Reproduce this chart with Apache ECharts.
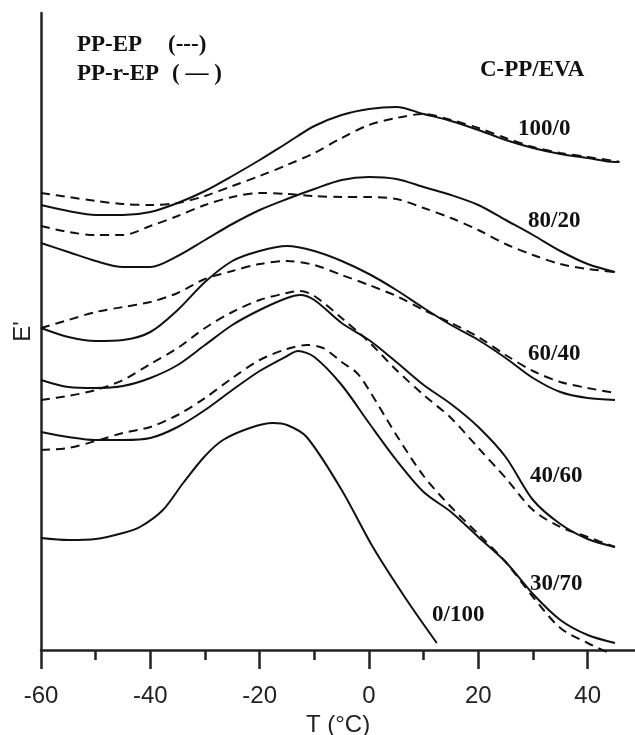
<!DOCTYPE html>
<html>
<head>
<meta charset="utf-8">
<title>C-PP/EVA - E' vs T</title>
<script src="https://cdn.jsdelivr.net/npm/echarts@6/dist/echarts.min.js"></script>
<style>
	html, body { margin: 0; padding: 0; background: #fff; }
	#chart { width: 635px; height: 735px; }
</style>
</head>
<body>
<div id="chart"></div>
<script>

/**
 * Most traces share the 5 degree grid, the rest carry their own peak points.
 */
var tempGrid = [-60, -55, -50, -45, -40, -35, -30, -25, -20, -15, -10, -5, 0, 5, 10, 15, 20, 25, 30, 35, 40, 45];
var tempGridLong = [-60, -55, -50, -45, -40, -35, -30, -25, -20, -15, -10, -5, 0, 5, 10, 15, 20, 25, 30, 35, 40, 45, 45.8];
var temp4060 = [-60, -55, -50, -45, -40, -35, -30, -25, -20, -15, -12.6, -10, -5, 0, 5, 10, 15, 20, 25, 30, 35, 40, 45];
var temp3070Solid = [-60, -55, -50, -45, -40, -35, -30, -25, -20, -15, -13, -10, -5, 0, 5, 10, 15, 20, 25, 30, 35, 40, 45];
var temp3070Dash = [-60, -55, -50, -45, -40, -35, -30, -25, -20, -15, -11.4, -8.4, -5, -2.2, 0, 5, 10, 15, 20, 25, 30, 35, 40, 43.5];
var temp0100 = [-60, -55, -50, -45, -41.9, -37.7, -34, -30, -26.7, -21.8, -17.6, -15, -11.4, -5, 0.7, 6.9, 12.4];

// E' (arbitrary units, curves are shifted vertically in the original)
var e100_0Solid = [445, 439, 435, 435, 438, 447, 459, 474, 490, 507, 524, 535, 541, 543, 536, 529, 520, 510, 502, 496, 492, 488, 488];
var e100_0Dash = [457, 453, 449, 446, 445, 447, 454, 464, 474, 485, 497, 512, 525, 532, 536, 530, 522, 512, 503, 497, 493, 489, 488];
var e80_20Solid = [407, 398, 389, 383, 383, 394, 410, 426, 440, 451, 461, 470, 473, 471, 463, 455, 445, 430, 415, 399, 386, 378];
var e80_20Dash = [424, 418, 415, 415, 424, 434, 445, 453, 457, 456, 454, 453, 453, 451, 442, 432, 420, 406, 395, 386, 381, 378];
var e60_40Solid = [322, 313, 309, 310, 318, 340, 368, 389, 399, 404, 399, 389, 376, 360, 342, 325, 310, 292, 272, 258, 252, 250];
var e60_40Dash = [322, 330, 338, 343, 348, 357, 371, 379, 386, 389, 385, 375, 365, 354, 340, 327, 313, 295, 279, 268, 262, 257];
var e40_60Solid = [270, 263, 262, 264, 272, 285, 305, 325, 340, 352, 355, 350, 327, 310, 288, 265, 246, 223, 193, 150, 126, 111, 103];
var e40_60Dash = [250, 254, 260, 270, 286, 302, 322, 338, 350, 357, 359, 354, 332, 308, 280, 255, 232, 202, 172, 140, 123, 113, 103];
var e30_70Solid = [218, 213, 210, 210, 212, 223, 240, 260, 279, 294, 299, 293, 265, 227, 190, 158, 138, 113, 88, 56, 30, 15, 7];
var e30_70Dash = [200, 202, 209, 217, 223, 235, 252, 272, 290, 301, 305, 302, 288, 277, 260, 215, 174, 143, 116, 88, 53, 22, 7, -2];
var e0_100Solid = [112, 110, 111, 117, 123, 140, 167, 194, 210, 222, 227, 225, 213, 160, 103, 50, 7];

// x axis ticks
var tempTicks = [-60, -40, -20, 0, 20, 40];

// curve labels (blend ratio C-PP/EVA)
var blendLabels = ['100/0', '80/20', '60/40', '40/60', '30/70', '0/100'];

/**
 * Zips temperatures and E' values into [x, y] pairs
 * @param {Array<number>} temps
 * @param {Array<number>} values
 */
function pairs(temps, values){
	var out = [];
	for(var ii = 0; ii < temps.length; ii++){
		out.push([temps[ii], values[ii]]);
	}
	return out;
}

/**
 * One trace of the figure, solid for PP-r-EP, dashed for PP-EP
 */
function trace(name, temps, values, dashed){
	return {
		name: name,
		type: 'line',
		data: pairs(temps, values),
		smooth: 0.3,
		symbol: 'none',
		showSymbol: false,
		silent: true,
		clip: false,
		z: dashed ? 3 : 2,
		lineStyle: {
			color: '#111',
			width: 2,
			type: dashed ? [9, 6] : 'solid'
		}
	};
}

/**
 * Bold serif annotation text
 */
function note(text, x, y){
	return {
		type: 'text',
		x: x,
		y: y,
		silent: true,
		style: {
			text: text,
			font: 'bold 23px "Liberation Serif"',
			fill: '#111',
			align: 'left',
			verticalAlign: 'middle'
		}
	};
}

var chart = echarts.init(document.getElementById('chart'), null, {renderer: 'canvas'});

var option = {
	animation: false,
	backgroundColor: '#fff',
	// the axis runs on past the right edge of the picture, up to 60 °C
	grid: {
		left: 41,
		width: 656,
		top: 13,
		bottom: 85,
		containLabel: false,
		outerBoundsMode: 'none'
	},
	xAxis: {
		type: 'value',
		min: -60,
		max: 60,
		interval: 20,
		name: 'T (°C)',
		nameLocation: 'middle',
		nameGap: 62,
		nameTextStyle: {
			fontFamily: '"Liberation Sans"',
			fontSize: 24,
			color: '#222',
			// centre the name on the visible part of the axis, not the full 120 degrees
			padding: [0, 62, 0, 0]
		},
		axisLine: { onZero: false, lineStyle: { color: '#222', width: 2.5 } },
		axisTick: { show: true, inside: false, length: 19, lineStyle: { color: '#222', width: 2.5 } },
		minorTick: { show: true, splitNumber: 2, length: 10, lineStyle: { color: '#222', width: 2.5 } },
		axisLabel: {
			margin: 34,
			fontFamily: '"Liberation Sans"',
			fontSize: 24,
			color: '#222',
			showMaxLabel: false,
			formatter: function(v){
				return tempTicks.indexOf(v) >= 0 ? String(v) : '';
			}
		},
		splitLine: { show: false },
		minorSplitLine: { show: false }
	},
	yAxis: {
		type: 'value',
		min: 0,
		max: 637,
		name: "E'",
		nameLocation: 'middle',
		nameGap: 6,
		nameTextStyle: {
			fontFamily: '"Liberation Sans"',
			fontSize: 24,
			color: '#222'
		},
		axisLine: { show: true, onZero: false, lineStyle: { color: '#222', width: 2.5 } },
		axisTick: { show: false },
		axisLabel: { show: false },
		splitLine: { show: false }
	},
	graphic: [
		note('PP-EP', 77, 45),
		note('(---)', 168, 45),
		note('PP-r-EP', 77, 74),
		note('( \u2014 )', 172, 74),
		note('C-PP/EVA', 480, 70),
		note(blendLabels[0], 518, 129),
		note(blendLabels[1], 528, 221),
		note(blendLabels[2], 528, 354),
		note(blendLabels[3], 530, 476),
		note(blendLabels[4], 530, 584),
		note(blendLabels[5], 432, 615)
	],
	series: [
		trace('100/0 PP-r-EP', tempGridLong, e100_0Solid, false),
		trace('100/0 PP-EP', tempGridLong, e100_0Dash, true),
		trace('80/20 PP-r-EP', tempGrid, e80_20Solid, false),
		trace('80/20 PP-EP', tempGrid, e80_20Dash, true),
		trace('60/40 PP-r-EP', tempGrid, e60_40Solid, false),
		trace('60/40 PP-EP', tempGrid, e60_40Dash, true),
		trace('40/60 PP-r-EP', temp4060, e40_60Solid, false),
		trace('40/60 PP-EP', temp4060, e40_60Dash, true),
		trace('30/70 PP-r-EP', temp3070Solid, e30_70Solid, false),
		trace('30/70 PP-EP', temp3070Dash, e30_70Dash, true),
		trace('0/100 PP-r-EP', temp0100, e0_100Solid, false)
	]
};

chart.setOption(option);

</script>
</body>
</html>
